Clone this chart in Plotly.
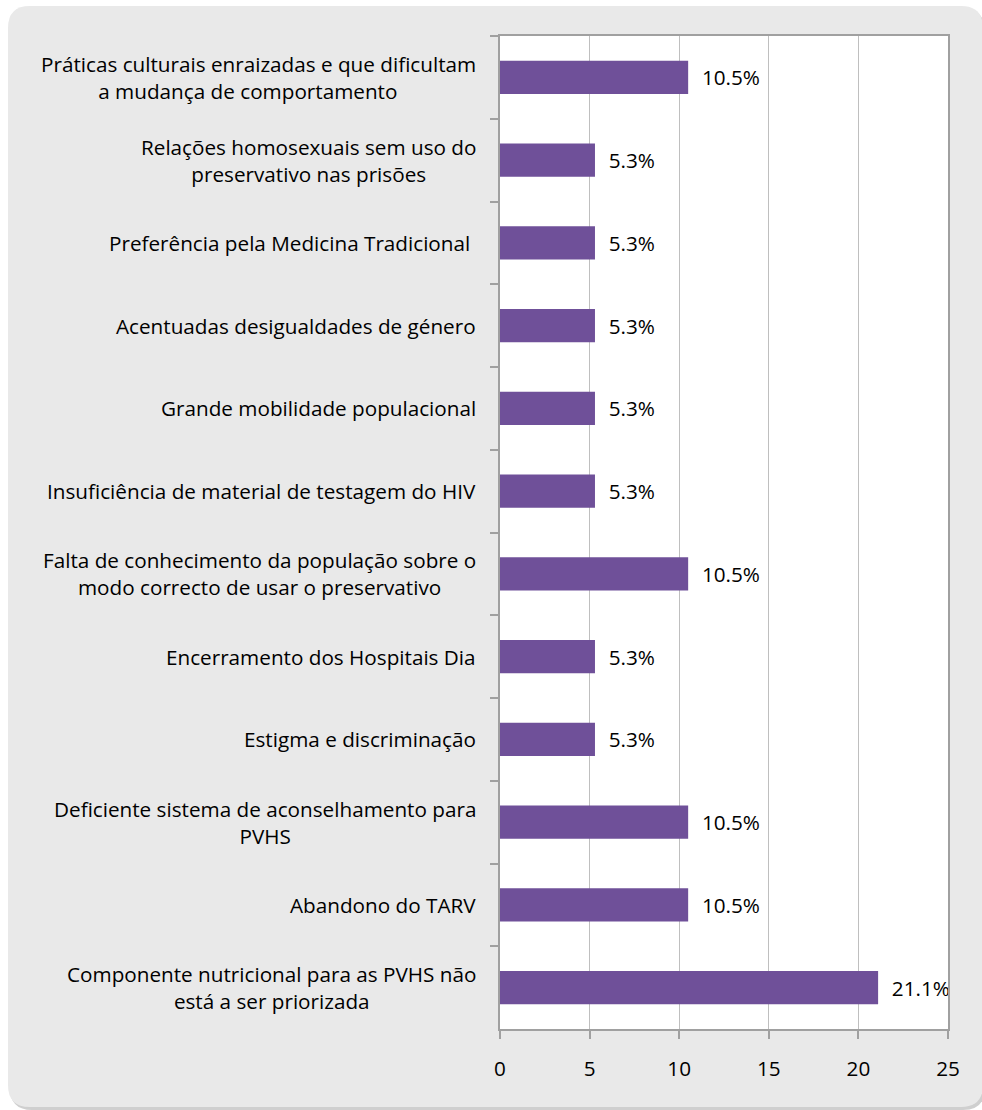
import plotly.graph_objects as go

categories = [
    "Práticas culturais enraizadas e que dificultam<br>a mudança de comportamento\u00a0\u00a0\u00a0\u00a0",
    "Relações homosexuais sem uso do<br>preservativo nas prisões",
    "Preferência pela Medicina Tradicional\u00a0",
    "Acentuadas desigualdades de género",
    "Grande mobilidade populacional",
    "Insuficiência de material de testagem do HIV",
    "Falta de conhecimento da população sobre o<br>modo correcto de usar o preservativo",
    "Encerramento dos Hospitais Dia",
    "Estigma e discriminação",
    "Deficiente sistema de aconselhamento para<br>PVHS",
    "Abandono do TARV",
    "Componente nutricional para as PVHS não<br>está a ser priorizada",
]
values = [10.5, 5.3, 5.3, 5.3, 5.3, 5.3, 10.5, 5.3, 5.3, 10.5, 10.5, 21.1]
value_labels = ["10.5%", "5.3%", "5.3%", "5.3%", "5.3%", "5.3%", "10.5%", "5.3%", "5.3%", "10.5%", "10.5%", "21.1%"]
x_ticks = [0, 5, 10, 15, 20, 25]

W, H = 982, 1110
L, R, T, B = 500, 34, 36, 81
PW, PH = W - L - R, H - T - B
FONT = "'Open Sans', sans-serif"
FS = 20.7

fig = go.Figure()
fig.add_trace(go.Bar(
    y=categories, x=values, orientation="h",
    marker=dict(color="#6f5099", line=dict(width=0)),
    text=["\u00a0\u00a0" + t for t in value_labels],
    textposition="outside", cliponaxis=False, constraintext="none",
    textfont=dict(family=FONT, size=FS, color="#000000"),
    hoverinfo="skip",
))

def px_to_paper(x, y):
    return (x - L) / PW, (H - B - y) / PH

def rounded_path(x0, y0, x1, y1, r):
    def P(x, y):
        a, b = px_to_paper(x, y)
        return f"{a:.5f},{b:.5f}"
    s = f"M {P(x0 + r, y0)} L {P(x1 - r, y0)} Q {P(x1, y0)} {P(x1, y0 + r)} "
    s += f"L {P(x1, y1 - r)} Q {P(x1, y1)} {P(x1 - r, y1)} "
    s += f"L {P(x0 + r, y1)} Q {P(x0, y1)} {P(x0, y1 - r)} "
    s += f"L {P(x0, y0 + r)} Q {P(x0, y0)} {P(x0 + r, y0)} Z"
    return s

shapes = [
    dict(type="path", xref="paper", yref="paper", layer="below",
         path=rounded_path(10, 9, 985, 1110, 22), fillcolor="#cfcfcf", line=dict(width=0)),
    dict(type="path", xref="paper", yref="paper", layer="below",
         path=rounded_path(8, 6, 983, 1107, 22), fillcolor="#e9e9e9", line=dict(width=0)),
    dict(type="rect", xref="x domain", yref="y domain", layer="below",
         x0=0, x1=1, y0=0, y1=1, fillcolor="#ffffff", line=dict(width=0)),
]

annotations = [
    dict(xref="paper", yref="y", x=0, y=c, text=c, xanchor="right", yanchor="middle",
         xshift=-22, align="center", showarrow=False,
         font=dict(family=FONT, size=FS, color="#000000"))
    for c in categories
]

fig.update_layout(
    width=W, height=H,
    margin=dict(l=L, r=R, t=T, b=B),
    paper_bgcolor="#ffffff", plot_bgcolor="rgba(0,0,0,0)",
    showlegend=False, bargap=0.6,
    shapes=shapes, annotations=annotations,
    font=dict(family=FONT, size=FS, color="#000000"),
    xaxis=dict(range=[0, 25], tickvals=x_ticks, ticktext=[str(v) for v in x_ticks],
               showgrid=True, gridcolor="#bfbfbf", gridwidth=1.3,
               showline=True, linecolor="#a0a0a0", linewidth=1.5, mirror=True,
               ticks="outside", ticklen=8, tickcolor="#a0a0a0", tickwidth=1.5,
               ticklabelstandoff=12, zeroline=False,
               tickfont=dict(family=FONT, size=FS, color="#000000")),
    yaxis=dict(autorange="reversed", type="category", tickson="boundaries",
               showticklabels=False, showgrid=False,
               showline=True, linecolor="#a0a0a0", linewidth=1.5, mirror=True,
               ticks="outside", ticklen=8, tickcolor="#a0a0a0", tickwidth=1.5),
)

fig.write_html(
    "out.html",
    config={"displayModeBar": False},
    post_script="document.body.style.margin='0';document.body.style.overflow='hidden';",
)
